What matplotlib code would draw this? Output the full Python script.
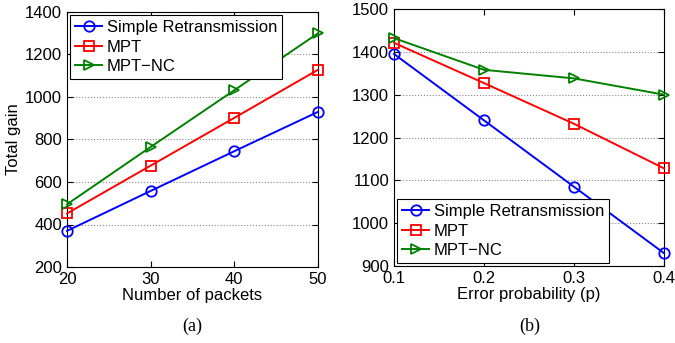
import numpy as np
from matplotlib import pyplot as plt

plt.rcParams['font.family'] = ['Liberation Sans', 'DejaVu Sans']

# (a) total gain vs number of packets
packets = [20, 30, 40, 50]
sr_a = [370, 558, 745, 930]
mpt_a = [452, 677, 902, 1128]
nc_a = [495, 765, 1032, 1300]

# (b) total gain vs error probability
probs = [0.1, 0.2, 0.3, 0.4]
sr_b = [1395, 1240, 1085, 930]
mpt_b = [1421, 1327, 1232, 1128]
nc_b = [1432, 1358, 1338, 1300]

labels = ['Simple Retransmission', 'MPT', 'MPT\u2212NC']
styles = [('#0000ff', 'o'), ('#ff0000', 's'), ('#008000', '>')]

fig = plt.figure(figsize=(6.75, 3.43), dpi=100)
ax1 = fig.add_axes([67/675, 1-267/343, 251/675, 255/343])
ax2 = fig.add_axes([394/675, 1-266/343, 270/675, 257/343])

def draw(ax, x, series):
    for ys, lab, (c, m) in zip(series, labels, styles):
        ax.plot(x, ys, color=c, marker=m, markersize=7.5, markerfacecolor='none',
                markeredgewidth=1.3, linewidth=1.4, label=lab, clip_on=False,
                zorder=3)
    ax.grid(axis='y', linestyle=':', color='#888888', linewidth=0.8)
    ax.tick_params(direction='in', labelsize=12, length=4, top=True, right=True)
    for s in ax.spines.values():
        s.set_linewidth(0.8)

draw(ax1, packets, [sr_a, mpt_a, nc_a])
ax1.set_xlim(20, 50)
ax1.set_ylim(200, 1400)
ax1.set_xticks(packets)
ax1.set_yticks(np.arange(200, 1401, 200))
ax1.set_xlabel('Number of packets', fontsize=12, labelpad=1)
ax1.set_ylabel('Total gain', fontsize=12, labelpad=3)
leg1 = ax1.legend(loc='upper left', fontsize=12, frameon=True, fancybox=False,
                  edgecolor='black', framealpha=1, handlelength=1.6,
                  handletextpad=0.3, borderpad=0.3, labelspacing=0.25,
                  borderaxespad=0.2)
leg1.get_frame().set_linewidth(0.8)
leg1.set_zorder(5)

draw(ax2, probs, [sr_b, mpt_b, nc_b])
ax2.set_xlim(0.1, 0.4)
ax2.set_ylim(900, 1500)
ax2.set_xticks(probs)
ax2.set_xticklabels(['0.1', '0.2', '0.3', '0.4'])
ax2.set_yticks(np.arange(900, 1501, 100))
ax2.set_xlabel('Error probability (p)', fontsize=12, labelpad=1)
leg2 = ax2.legend(loc='lower left', fontsize=12, frameon=True, fancybox=False,
                  edgecolor='black', framealpha=1, handlelength=1.6,
                  handletextpad=0.3, borderpad=0.3, labelspacing=0.25,
                  borderaxespad=0.2)
leg2.get_frame().set_linewidth(0.8)
leg2.set_zorder(5)

fig.text(192/675, 1-326/343, '(a)', family='Liberation Serif', fontsize=13,
         ha='center', va='center')
fig.text(530/675, 1-326/343, '(b)', family='Liberation Serif', fontsize=13,
         ha='center', va='center')

fig.savefig('out.png', dpi=100)
